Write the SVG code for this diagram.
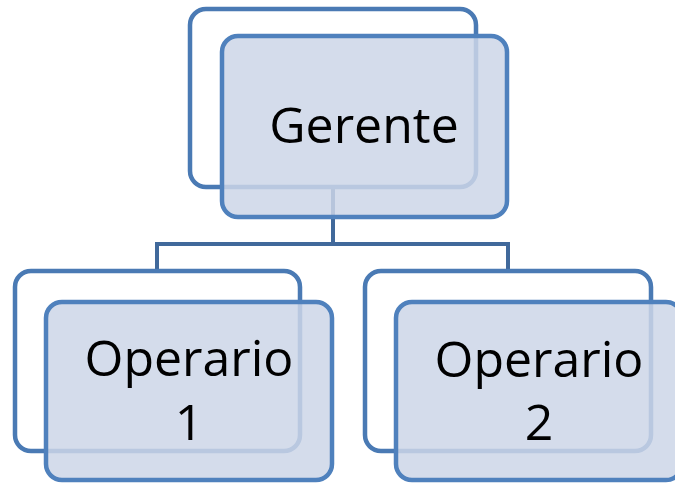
<svg xmlns="http://www.w3.org/2000/svg" width="675" height="486" viewBox="0 0 675 486">
<style>
.back{fill:#ffffff;stroke:#4a7ab4;stroke-width:4.5}
.front{fill:#cdd6e8;fill-opacity:0.85;stroke:#4f81bd;stroke-width:4.5}
.conn{fill:none;stroke:#41699b;stroke-width:4}
.lbl{font-family:"Open Sans","Liberation Sans",Arial,sans-serif;font-size:50px;fill:#000;text-anchor:middle}
</style>
<rect width="675" height="486" fill="#ffffff"/>
<g id="connectors">
<path class="conn" d="M333,186 V244 M157,271 V244 H508 V271"/>
</g>
<g id="gerente">
<rect class="back" x="190" y="9" width="286" height="178" rx="16"/>
<rect class="front" x="222" y="36" width="285" height="181" rx="16"/>
<text class="lbl" x="364" y="143">Gerente</text>
</g>
<g id="operario1">
<rect class="back" x="15" y="271" width="285" height="180" rx="16"/>
<rect class="front" x="46" y="302" width="286" height="178" rx="16"/>
<text class="lbl" x="189" y="376">Operario</text>
<text class="lbl" x="189" y="440">1</text>
</g>
<g id="operario2">
<rect class="back" x="365" y="271" width="286" height="180" rx="16"/>
<rect class="front" x="396" y="302" width="286" height="178" rx="16"/>
<text class="lbl" x="539" y="377">Operario</text>
<text class="lbl" x="539" y="440">2</text>
</g>
</svg>
